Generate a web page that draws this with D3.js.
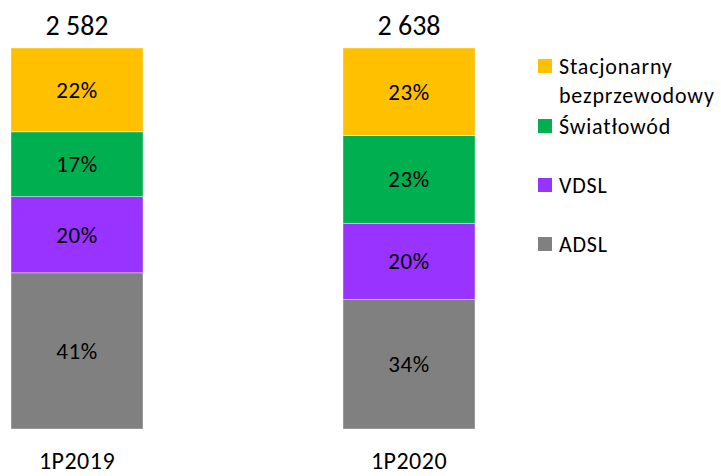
<!DOCTYPE html>
<html>
<head>
<meta charset="utf-8">
<script src="https://cdn.jsdelivr.net/npm/d3@7"></script>
<style>
  body { margin: 0; background: #fff; }
  text { font-family: Carlito, Lato, "Liberation Sans", sans-serif; fill: #000; }
</style>
</head>
<body>
<div id="chart"></div>
<script>
var categories = ["1P2019", "1P2020"];
var totals = ["2 582", "2 638"];
// stacked bottom -> top
var seriesNames = ["ADSL", "VDSL", "Światłowód", "Stacjonarny bezprzewodowy"];
var adsl = [41, 34];
var vdsl = [20, 20];
var swiatlowod = [17, 23];
var stacjonarny = [22, 23];
var colors = ["#808080", "#9933FF", "#00B050", "#FFC000"];

var width = 721, height = 476;

var svg = d3.select("#chart").append("svg")
    .attr("width", width)
    .attr("height", height);

var x = d3.scaleBand()
    .domain(categories)
    .range([11, 475])
    .paddingInner(200 / 332)
    .paddingOuter(0);

var y = d3.scaleLinear()
    .domain([0, 100])
    .range([429, 48]);

var rows = categories.map(function (c, i) {
    return { cat: c, ADSL: adsl[i], VDSL: vdsl[i], "Światłowód": swiatlowod[i], "Stacjonarny bezprzewodowy": stacjonarny[i] };
});

var stack = d3.stack().keys(seriesNames);
var layers = stack(rows);

var color = d3.scaleOrdinal().domain(seriesNames).range(colors);

var layer = svg.selectAll(".layer")
    .data(layers)
    .enter()
    .append("g")
    .attr("class", "layer")
    .attr("fill", function (d) { return color(d.key); });

layer.selectAll("rect")
    .data(function (d) { return d; })
    .enter()
    .append("rect")
    .attr("x", function (d) { return x(d.data.cat); })
    .attr("y", function (d) { return y(d[1]); })
    .attr("width", x.bandwidth())
    .attr("height", function (d) { return y(d[0]) - y(d[1]); })
    .attr("stroke", "#ffffff")
    .attr("stroke-opacity", 0.5)
    .attr("stroke-width", 0.75);

layer.selectAll(".pct")
    .data(function (d) { return d; })
    .enter()
    .append("text")
    .attr("class", "pct")
    .attr("text-anchor", "middle")
    .attr("x", function (d) { return x(d.data.cat) + x.bandwidth() / 2; })
    .attr("y", function (d) { return (y(d[0]) + y(d[1])) / 2; })
    .attr("dy", "0.35em")
    .style("font-size", "23px")
    .style("letter-spacing", "0.5px")
    .text(function (d) { return (d[1] - d[0]) + "%"; });

// totals above bars
svg.selectAll(".total")
    .data(categories)
    .enter()
    .append("text")
    .attr("class", "total")
    .attr("text-anchor", "middle")
    .attr("x", function (d) { return x(d) + x.bandwidth() / 2; })
    .attr("y", 35)
    .style("font-size", "28px")
    .text(function (d, i) { return totals[i]; });

// category labels
svg.selectAll(".cat")
    .data(categories)
    .enter()
    .append("text")
    .attr("class", "cat")
    .attr("text-anchor", "middle")
    .attr("x", function (d) { return x(d) + x.bandwidth() / 2; })
    .attr("y", 469)
    .style("font-size", "24px")
    .style("letter-spacing", "0.5px")
    .text(function (d) { return d; });

// legend (top -> bottom)
var legendItems = [
    { key: "Stacjonarny bezprzewodowy", lines: ["Stacjonarny", "bezprzewodowy"], y: 59 },
    { key: "Światłowód", lines: ["Światłowód"], y: 119 },
    { key: "VDSL", lines: ["VDSL"], y: 178 },
    { key: "ADSL", lines: ["ADSL"], y: 237 }
];

var legend = svg.selectAll(".legend")
    .data(legendItems)
    .enter()
    .append("g")
    .attr("class", "legend")
    .attr("transform", function (d) { return "translate(538," + d.y + ")"; });

legend.append("rect")
    .attr("width", 14)
    .attr("height", 14)
    .attr("fill", function (d) { return color(d.key); });

legend.each(function (d) {
    var g = d3.select(this);
    d.lines.forEach(function (line, i) {
        g.append("text")
            .attr("x", 21)
            .attr("y", 15 + i * 29)
            .style("font-size", "22px")
            .style("letter-spacing", "0.8px")
            .text(line);
    });
});
</script>
</body>
</html>
